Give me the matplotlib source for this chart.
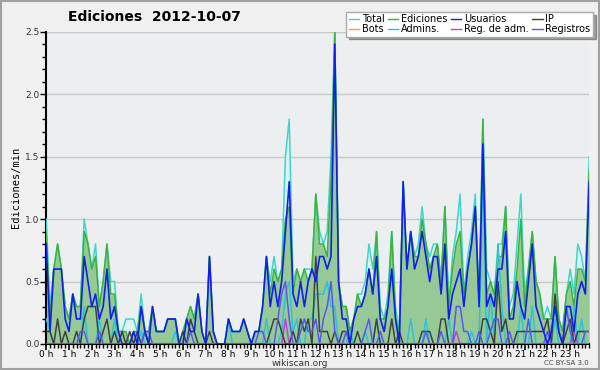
import numpy as np
import matplotlib
matplotlib.use("Agg")
from matplotlib import pyplot as plt
from matplotlib.patches import Rectangle

# 10-minute bins, edits per minute
total = [1.0, 0.3, 0.6, 0.8, 0.6, 0.3, 0.2, 0.4, 0.3, 0.3, 1.0, 0.8,
         0.6, 0.8, 0.3, 0.5, 0.8, 0.5, 0.5, 0.1, 0.1, 0.2, 0.2, 0.2,
         0.1, 0.4, 0.1, 0.1, 0.3, 0.1, 0.1, 0.1, 0.2, 0.2, 0.2, 0.0,
         0.1, 0.2, 0.3, 0.2, 0.4, 0.1, 0.0, 0.7, 0.1, 0.0, 0.0, 0.0,
         0.2, 0.1, 0.1, 0.1, 0.2, 0.1, 0.0, 0.1, 0.1, 0.3, 0.7, 0.5,
         0.7, 0.5, 0.6, 1.5, 1.8, 0.5, 0.6, 0.5, 0.6, 0.6, 0.6, 1.2,
         0.9, 0.8, 0.9, 1.5, 2.5, 0.5, 0.3, 0.3, 0.1, 0.2, 0.4, 0.4,
         0.5, 0.8, 0.6, 0.9, 0.3, 0.2, 0.4, 0.9, 0.3, 0.1, 1.3, 0.6,
         0.9, 0.7, 0.8, 1.1, 0.8, 0.7, 0.8, 0.8, 0.5, 1.1, 0.3, 0.7,
         0.9, 1.2, 0.4, 0.7, 0.9, 1.2, 0.3, 1.8, 0.6, 0.5, 0.4, 0.8,
         0.8, 1.1, 0.3, 0.4, 0.8, 1.2, 0.4, 0.6, 0.9, 0.5, 0.4, 0.2,
         0.3, 0.2, 0.7, 0.2, 0.1, 0.4, 0.6, 0.4, 0.8, 0.7, 0.5, 1.5]
ediciones = [0.9, 0.2, 0.6, 0.8, 0.6, 0.3, 0.2, 0.4, 0.3, 0.3, 0.9, 0.8,
             0.6, 0.7, 0.3, 0.5, 0.8, 0.4, 0.4, 0.1, 0.1, 0.1, 0.0, 0.1,
             0.1, 0.3, 0.1, 0.1, 0.3, 0.1, 0.1, 0.1, 0.2, 0.2, 0.2, 0.0,
             0.1, 0.2, 0.3, 0.2, 0.4, 0.1, 0.0, 0.7, 0.1, 0.0, 0.0, 0.0,
             0.2, 0.1, 0.1, 0.1, 0.2, 0.1, 0.0, 0.1, 0.1, 0.3, 0.7, 0.4,
             0.6, 0.5, 0.6, 1.0, 1.1, 0.4, 0.6, 0.5, 0.6, 0.5, 0.6, 1.2,
             0.8, 0.8, 0.7, 1.3, 2.5, 0.5, 0.3, 0.3, 0.1, 0.2, 0.4, 0.3,
             0.4, 0.6, 0.4, 0.9, 0.2, 0.2, 0.3, 0.9, 0.2, 0.1, 1.3, 0.6,
             0.9, 0.7, 0.7, 1.0, 0.8, 0.6, 0.7, 0.8, 0.5, 1.1, 0.3, 0.6,
             0.8, 0.9, 0.4, 0.6, 0.8, 1.1, 0.3, 1.8, 0.4, 0.5, 0.4, 0.7,
             0.7, 1.1, 0.2, 0.3, 0.6, 1.0, 0.3, 0.6, 0.9, 0.5, 0.4, 0.2,
             0.2, 0.2, 0.7, 0.2, 0.1, 0.4, 0.5, 0.3, 0.6, 0.6, 0.5, 1.4]
usuarios = [0.8, 0.1, 0.6, 0.6, 0.6, 0.2, 0.1, 0.4, 0.2, 0.2, 0.7, 0.5,
            0.3, 0.4, 0.2, 0.3, 0.6, 0.2, 0.3, 0.1, 0.0, 0.0, 0.0, 0.1,
            0.0, 0.3, 0.1, 0.0, 0.3, 0.1, 0.1, 0.1, 0.2, 0.2, 0.2, 0.0,
            0.0, 0.2, 0.1, 0.1, 0.4, 0.1, 0.0, 0.7, 0.1, 0.0, 0.0, 0.0,
            0.2, 0.1, 0.1, 0.1, 0.2, 0.1, 0.0, 0.1, 0.1, 0.3, 0.7, 0.3,
            0.5, 0.3, 0.5, 0.9, 1.3, 0.4, 0.3, 0.5, 0.3, 0.5, 0.6, 0.5,
            0.7, 0.7, 0.6, 0.7, 2.4, 0.5, 0.2, 0.2, 0.0, 0.2, 0.3, 0.3,
            0.4, 0.6, 0.4, 0.7, 0.2, 0.1, 0.3, 0.6, 0.2, 0.0, 1.3, 0.6,
            0.9, 0.6, 0.7, 0.9, 0.7, 0.5, 0.7, 0.7, 0.4, 0.8, 0.2, 0.4,
            0.5, 0.6, 0.3, 0.6, 0.8, 1.1, 0.3, 1.6, 0.3, 0.4, 0.3, 0.6,
            0.6, 0.9, 0.2, 0.2, 0.5, 0.3, 0.2, 0.5, 0.8, 0.3, 0.2, 0.1,
            0.0, 0.1, 0.3, 0.1, 0.0, 0.3, 0.3, 0.1, 0.4, 0.5, 0.4, 1.3]
ip = [0.1, 0.1, 0.0, 0.2, 0.0, 0.1, 0.0, 0.0, 0.1, 0.0, 0.2, 0.3,
      0.3, 0.3, 0.0, 0.1, 0.2, 0.0, 0.1, 0.0, 0.1, 0.0, 0.1, 0.0,
      0.1, 0.0, 0.1, 0.0, 0.0, 0.0, 0.0, 0.0, 0.0, 0.0, 0.0, 0.0,
      0.1, 0.0, 0.2, 0.1, 0.0, 0.0, 0.0, 0.1, 0.0, 0.0, 0.0, 0.0,
      0.0, 0.0, 0.0, 0.0, 0.0, 0.0, 0.0, 0.0, 0.0, 0.0, 0.0, 0.1,
      0.2, 0.2, 0.1, 0.0, 0.0, 0.1, 0.0, 0.2, 0.1, 0.2, 0.0, 0.7,
      0.1, 0.1, 0.1, 0.0, 0.1, 0.0, 0.1, 0.1, 0.0, 0.0, 0.1, 0.0,
      0.0, 0.0, 0.0, 0.2, 0.0, 0.0, 0.0, 0.2, 0.0, 0.1, 0.0, 0.0,
      0.0, 0.0, 0.0, 0.1, 0.1, 0.1, 0.0, 0.0, 0.2, 0.2, 0.0, 0.0,
      0.0, 0.0, 0.0, 0.0, 0.0, 0.0, 0.0, 0.2, 0.2, 0.1, 0.0, 0.5,
      0.1, 0.2, 0.0, 0.0, 0.1, 0.1, 0.1, 0.1, 0.1, 0.1, 0.1, 0.1,
      0.2, 0.0, 0.4, 0.1, 0.0, 0.1, 0.2, 0.0, 0.1, 0.1, 0.1, 0.1]
admins = [0.2, 0.1, 0.0, 0.0, 0.0, 0.0, 0.0, 0.0, 0.0, 0.0, 0.3, 0.0,
          0.0, 0.0, 0.2, 0.0, 0.0, 0.0, 0.2, 0.0, 0.0, 0.0, 0.0, 0.0,
          0.0, 0.1, 0.0, 0.0, 0.0, 0.0, 0.0, 0.0, 0.0, 0.0, 0.1, 0.0,
          0.0, 0.0, 0.0, 0.0, 0.0, 0.0, 0.0, 0.0, 0.0, 0.0, 0.0, 0.0,
          0.2, 0.0, 0.0, 0.0, 0.0, 0.0, 0.0, 0.0, 0.0, 0.0, 0.2, 0.0,
          0.0, 0.0, 0.1, 0.4, 0.5, 0.1, 0.2, 0.0, 0.0, 0.2, 0.2, 0.4,
          0.4, 0.4, 0.5, 0.3, 0.3, 0.0, 0.0, 0.0, 0.1, 0.0, 0.0, 0.0,
          0.1, 0.0, 0.0, 0.2, 0.0, 0.0, 0.0, 0.0, 0.0, 0.0, 0.0, 0.0,
          0.2, 0.0, 0.0, 0.0, 0.2, 0.0, 0.0, 0.0, 0.0, 0.0, 0.2, 0.0,
          0.0, 0.0, 0.0, 0.0, 0.1, 0.0, 0.0, 1.4, 0.0, 0.4, 0.0, 0.8,
          0.3, 0.0, 0.0, 0.0, 0.0, 0.3, 0.0, 0.0, 0.3, 0.0, 0.0, 0.0,
          0.0, 0.0, 0.2, 0.0, 0.0, 0.0, 0.0, 0.3, 0.0, 0.2, 0.0, 0.0]
reg_adm = [0.0] * 144
for k, v in [(63, 0.2), (108, 0.1), (139, 0.1)]:
    reg_adm[k] = v
registros = [0.0, 0.0, 0.0, 0.0, 0.0, 0.0, 0.0, 0.0, 0.0, 0.1, 0.1, 0.0,
             0.0, 0.0, 0.1, 0.0, 0.0, 0.0, 0.0, 0.0, 0.0, 0.0, 0.0, 0.0,
             0.0, 0.0, 0.1, 0.1, 0.0, 0.0, 0.0, 0.0, 0.0, 0.0, 0.0, 0.0,
             0.0, 0.0, 0.1, 0.0, 0.0, 0.0, 0.0, 0.0, 0.0, 0.0, 0.0, 0.0,
             0.0, 0.0, 0.0, 0.0, 0.0, 0.0, 0.0, 0.0, 0.1, 0.1, 0.0, 0.0,
             0.0, 0.2, 0.4, 0.5, 0.2, 0.0, 0.0, 0.1, 0.2, 0.1, 0.1, 0.2,
             0.0, 0.2, 0.3, 0.5, 0.1, 0.0, 0.0, 0.1, 0.0, 0.0, 0.0, 0.0,
             0.1, 0.2, 0.0, 0.0, 0.1, 0.0, 0.0, 0.0, 0.0, 0.0, 0.0, 0.0,
             0.0, 0.0, 0.0, 0.0, 0.1, 0.0, 0.0, 0.0, 0.1, 0.0, 0.0, 0.0,
             0.3, 0.3, 0.1, 0.1, 0.0, 0.0, 0.1, 0.0, 0.0, 0.1, 0.2, 0.2,
             0.0, 0.0, 0.1, 0.0, 0.0, 0.0, 0.0, 0.2, 0.0, 0.0, 0.0, 0.0,
             0.1, 0.0, 0.0, 0.0, 0.0, 0.3, 0.1, 0.0, 0.0, 0.0, 0.1, 0.1]
bots = [0.0] * 144

hour_labels = ["%d h" % h for h in range(24)]

x = np.arange(len(total))

fig = plt.figure(figsize=(6, 3.7), dpi=100, facecolor="#f0f0f0")
ax = fig.add_axes([0.077, 0.0703, 0.905, 0.844])
ax.set_facecolor("#edeef0")

# horizontal grid
for g in [0.5, 1.0, 1.5, 2.0, 2.5]:
    ax.axhline(g, color="#c8c8c8", lw=1, zorder=0)

ax.fill_between(x, 0, total, color="#daf3ee", lw=0, zorder=1)
ax.fill_between(x, 0, ediciones, color="#96c996", lw=0, zorder=2)
ax.plot(x, total, color="#3fd4cc", lw=1.1, zorder=3, label="Total")
ax.plot(x, bots, color="#f0a040", lw=1.1, zorder=3, label="Bots")
ax.plot(x, ediciones, color="#3cb43c", lw=1.1, zorder=3, label="Ediciones")
ax.plot(x, admins, color="#2cc4d8", lw=1.1, zorder=4, label="Admins.")
ax.plot(x, usuarios, color="#1020e8", lw=1.2, zorder=5, label="Usuarios")
ax.plot(x, reg_adm, color="#c040d8", lw=1.1, zorder=4, label="Reg. de adm.")
ax.plot(x, ip, color="#404040", lw=1.1, zorder=4, label="IP")
ax.plot(x, registros, color="#5858f0", lw=1.1, zorder=4, label="Registros")

ax.set_xlim(0, 143)
ax.set_ylim(0, 2.5)
ax.set_xticks(np.arange(0, 144, 6))
ax.set_xticklabels(hour_labels, fontsize=6.5)
ax.set_xticks(np.arange(0, 144, 1), minor=True)
ax.set_yticks([0, 0.5, 1.0, 1.5, 2.0, 2.5])
ax.set_yticklabels(["0.0", "0.5", "1.0", "1.5", "2.0", "2.5"], fontsize=6.5, color="#333333")
ax.set_yticks(np.arange(0, 2.51, 0.1), minor=True)
ax.tick_params(axis="x", which="major", length=4, width=1.2, pad=0.5)
ax.tick_params(axis="x", which="minor", length=3, width=1)
ax.tick_params(axis="y", which="major", length=4, width=1, pad=1)
ax.tick_params(axis="y", which="minor", length=3, width=1)
for s in ["top", "right"]:
    ax.spines[s].set_visible(False)
ax.spines["left"].set_linewidth(1.5)
ax.spines["bottom"].set_linewidth(1.5)

ax.set_ylabel("Ediciones/min", fontsize=7.5, family="DejaVu Sans Mono", labelpad=3)

fig.text(0.257, 0.955, "Ediciones  2012-10-07", fontsize=10, fontweight="bold",
         ha="center", va="center")
fig.text(0.5, 0.018, "wikiscan.org", fontsize=6.5, ha="center", va="center", color="#333333")
fig.text(0.982, 0.018, "CC BY-SA 3.0", fontsize=5, ha="right", va="center", color="#444444")

leg = ax.legend(ncol=4, loc="upper right", bbox_to_anchor=(1.007, 1.064), fontsize=7,
                frameon=True, fancybox=False, shadow=True, handlelength=1.1,
                handletextpad=0.3, columnspacing=0.3, labelspacing=0.0,
                borderpad=0.25, borderaxespad=0)
leg.get_frame().set_edgecolor("#aaaaaa")
leg.get_frame().set_facecolor("white")
for line in leg.get_lines():
    line.set_linewidth(1.0)

# outer border
fig.patches.append(Rectangle((0.0015, 0.0025), 0.997, 0.995, transform=fig.transFigure,
                             fill=False, edgecolor="#a0a0a0", lw=1.5))

fig.savefig("out.png", dpi=100, facecolor=fig.get_facecolor())
